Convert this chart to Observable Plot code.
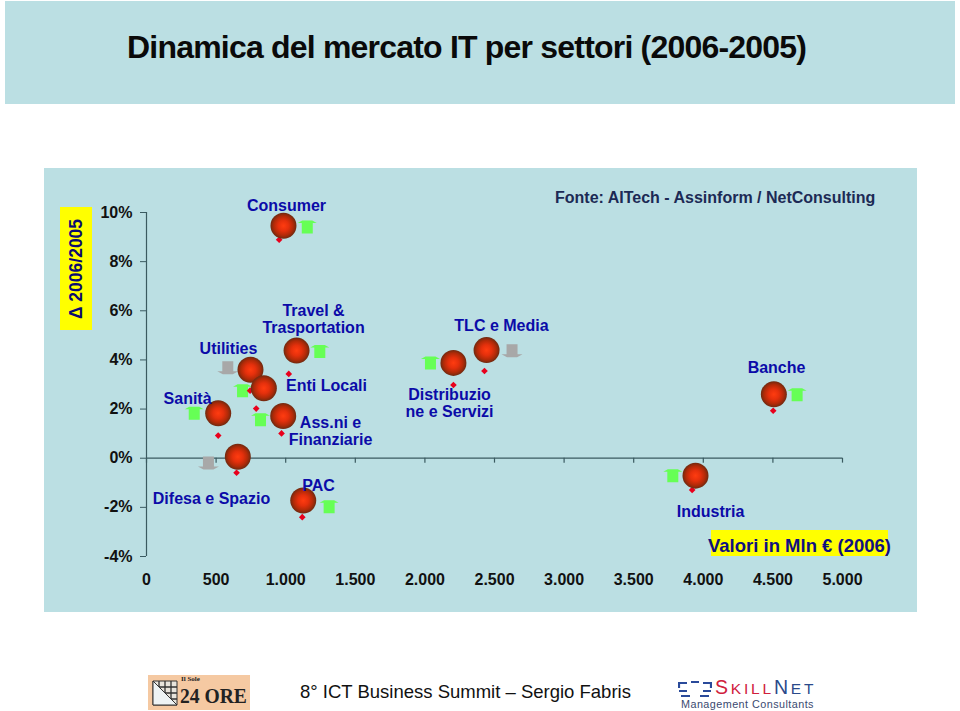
<!DOCTYPE html>
<html><head><meta charset="utf-8">
<script src="https://cdn.jsdelivr.net/npm/d3@7"></script>
<script src="https://cdn.jsdelivr.net/npm/@observablehq/plot@0.6"></script>
<style>
html,body{margin:0;padding:0;background:#fff;width:960px;height:711px;overflow:hidden;font-family:"Liberation Sans",Arial,sans-serif}
.a{position:absolute;white-space:nowrap}
#chart{position:absolute;left:0;top:0}
</style></head><body>
<div class="a" style="left:5px;top:1px;width:950px;height:103px;background:#bbdfe3"></div>
<div class="a" style="left:44px;top:168px;width:873px;height:444px;background:#bbdfe3"></div>
<div class="a" style="left:127px;top:29px;font-size:32px;font-weight:700;letter-spacing:-0.8px;color:#0a0a0a">Dinamica del mercato IT per settori (2006-2005)</div>
<div class="a" style="left:60px;top:207px;width:32px;height:123px;background:#ffff00"></div>
<div class="a" style="left:76px;top:268.5px;transform:translate(-50%,-50%) rotate(-90deg);font-size:17.5px;color:#0b0b70;font-weight:700">&#916; 2006/2005</div>
<div class="a" style="left:555px;top:189px;font-size:16px;font-weight:700;color:#1c2a55">Fonte: AITech - Assinform / NetConsulting</div>
<div class="a" style="left:711px;top:530px;width:177px;height:26px;background:#ffff00"></div>
<div class="a" style="left:708px;top:535px;font-size:18.5px;font-weight:700;color:#101080">Valori in Mln &#8364; (2006)</div>
<div id="chart"></div>
<div class="a" style="left:300px;top:681px;font-size:18.5px;color:#111">8&#176; ICT Business Summit &#8211; Sergio Fabris</div>
<div class="a" style="left:148px;top:675px;width:102px;height:35px;background:#f5c9a2"></div>
<svg class="a" style="left:152px;top:680px" width="26" height="26" viewBox="0 0 26 26">
<path d="M1 1H25V25H1Z" fill="#e8e4dc" stroke="#333"/>
<path d="M1 7H25M1 13H25M1 19H25M7 1V25M13 1V25M19 1V25" stroke="#333" stroke-width="1.3"/>
<path d="M1 1L25 25H1Z" fill="#eef3f4" stroke="#333"/>
</svg>
<div class="a" style="left:181px;top:675px;font-size:7px;line-height:8px;font-family:'Liberation Serif';font-weight:700;color:#222">Il Sole</div>
<div class="a" style="left:180px;top:684px;font-size:22px;line-height:24px;font-family:'Liberation Serif';font-weight:700;color:#222;transform:scaleX(.89);transform-origin:left">24 ORE</div>
<svg class="a" style="left:678px;top:680px" width="34" height="18" viewBox="0 0 34 18">
<path d="M1 8V3H9M13 2H21M25 3H33V8M1 11H9M25 11H33M3 16H12M22 16H31" fill="none" stroke="#2a4a9a" stroke-width="2.2"/>
</svg>
<div class="a" style="left:715px;top:676px;font-size:19.5px;line-height:22px;letter-spacing:2.8px;color:#d0203c">S<span style="font-size:15.5px">KILL</span><span style="color:#2a4a8a">N<span style="font-size:15.5px">ET</span></span></div>
<div class="a" style="left:681px;top:698px;font-size:10.8px;line-height:12px;letter-spacing:.45px;color:#3a4a70">Management Consultants</div>
<svg width="0" height="0" style="position:absolute"><defs>
<radialGradient id="ball" cx="50%" cy="50%" r="50%">
<stop offset="0%" stop-color="#ff3c10"/><stop offset="40%" stop-color="#e5300c"/><stop offset="75%" stop-color="#b02a08"/><stop offset="100%" stop-color="#6e2a10"/>
</radialGradient></defs></svg>
<script>
const xTicks=[0,500,1000,1500,2000,2500,3000,3500,4000,4500,5000];
const yTicks=[10,8,6,4,2,0,-2,-4];
const sectors=["Consumer","Travel","Utilities","Enti","Sanita","Assni","Difesa","PAC","TLC","Distribuzione","Banche","Industria"];
const ballX=[984,1078,747,843,515,982,656,1126,2443,2205,4507,3944];
const ballY=[9.46,4.38,3.6,2.85,1.83,1.72,0.06,-1.72,4.4,3.88,2.6,-0.71];
const redX=[953,1022,744,788,515,970,647,1119,2428,2205,4502,3920];
const redY=[8.89,3.43,2.75,2.02,0.92,1.01,-0.59,-2.4,3.55,2.98,1.93,-1.29];
const arrowX=[1155,1245,584,690,343,819,445,1312,2626,2040,4674,3781];
const arrowY=[9.41,4.34,3.68,2.75,1.83,1.57,-0.19,-1.98,4.37,3.88,2.58,-0.71];
const arrowDir=["up","up","down","up","up","up","down","up","down","up","up","up"];
const labelText=["Consumer","Travel &\nTrasportation","Utilities","Enti Locali","Sanità","Ass.ni e\nFinanziarie","Difesa e Spazio","PAC","TLC e Media","Distribuzio\nne e Servizi","Banche","Industria"];
const labelX=[1006,1200,589,1293,295,1322,467,1236,2550,2177,4526,4052];
const labelY=[10.36,5.73,4.54,3.02,2.49,1.18,-1.57,-1.04,5.48,2.32,3.76,-2.1];

const upSym={draw(c){c.moveTo(-5,-6.5);c.lineTo(5,-6.5);c.lineTo(9.5,-4);c.lineTo(5.5,-4);c.lineTo(5.5,6.5);c.lineTo(-5.5,6.5);c.lineTo(-5.5,-4);c.lineTo(-9.5,-4);c.closePath();}};
const downSym={draw(c){c.moveTo(-5,6.5);c.lineTo(5,6.5);c.lineTo(10.5,3.5);c.lineTo(5.5,3.5);c.lineTo(5.5,-6.5);c.lineTo(-5.5,-6.5);c.lineTo(-5.5,3.5);c.lineTo(-10.5,3.5);c.closePath();}};
const idx=d3.range(sectors.length);
const ups=idx.filter(i=>arrowDir[i]==="up"), downs=idx.filter(i=>arrowDir[i]==="down");
const axisColor="#3a5a60";
const plot=Plot.plot({
  width:960,height:711,marginLeft:146,marginRight:118,marginTop:212,marginBottom:155,
  style:{background:"transparent",fontFamily:"'Liberation Sans',Arial,sans-serif",overflow:"visible"},
  x:{domain:[0,5000],label:null},
  y:{domain:[-4,10],label:null},
  marks:[
    Plot.ruleX([0],{y1:-4,y2:10,stroke:axisColor,strokeWidth:1.2}),
    Plot.ruleY([0],{x1:0,x2:5000,stroke:axisColor,strokeWidth:1.2}),
    Plot.ruleX(xTicks,{x:d=>d,y1:0,y2:-0.2,stroke:axisColor,strokeWidth:1.2}),
    Plot.axisX({ticks:xTicks,tickSize:0,tickPadding:17,tickFormat:d=>d3.format(",")(d).replace(/,/g,"."),fontSize:16,fontWeight:700,color:"#111",label:null}),
    Plot.axisY({ticks:yTicks,tickSize:6,tickPadding:8,tickFormat:d=>d+"%",fontSize:16,fontWeight:700,color:"#111",stroke:axisColor,label:null}),
    Plot.dot(ups,{x:i=>arrowX[i],y:i=>arrowY[i],symbol:upSym,r:8,fill:"#66ff55",stroke:"none"}),
    Plot.dot(downs,{x:i=>arrowX[i],y:i=>arrowY[i],symbol:downSym,r:8,fill:"#a8a8a8",stroke:"none"}),
    Plot.dot(idx,{x:i=>redX[i],y:i=>redY[i],symbol:"diamond2",r:3,fill:"#e8001c",stroke:"none"}),
    Plot.dot(idx,{x:i=>ballX[i],y:i=>ballY[i],r:13,fill:"url(#ball)",stroke:"none"}),
    Plot.text(idx,{x:i=>labelX[i],y:i=>labelY[i],text:i=>labelText[i],dy:1.5,fontSize:16,fontWeight:700,lineHeight:1.1,fill:"#0b0ba8"})
  ]
});
document.getElementById("chart").append(plot);
</script>
</body></html>
